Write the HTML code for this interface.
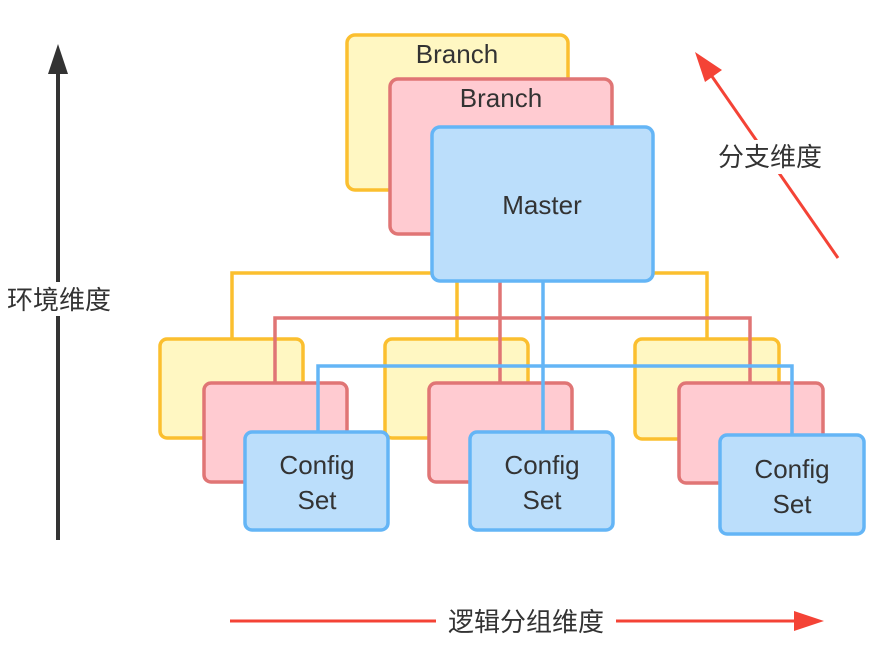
<!DOCTYPE html>
<html><head><meta charset="utf-8"><style>
html,body{margin:0;padding:0;background:#fff;width:881px;height:646px;overflow:hidden}
text{font-family:"Liberation Sans","Noto Sans CJK SC",sans-serif;fill:#333}
</style></head><body>
<svg width="881" height="646" viewBox="0 0 881 646" xmlns="http://www.w3.org/2000/svg">
<g stroke-width="3.5">
<!-- bottom yellow -->
<rect x="160" y="339" width="143" height="99" rx="7" fill="#fff7c2" stroke="#fbbf2f"/>
<rect x="385" y="339" width="143" height="99" rx="7" fill="#fff7c2" stroke="#fbbf2f"/>
<rect x="635" y="339" width="144" height="100" rx="7" fill="#fff7c2" stroke="#fbbf2f"/>
<!-- bottom pink -->
<rect x="204" y="383" width="143" height="99" rx="7" fill="#ffcbd1" stroke="#e07575"/>
<rect x="429" y="383" width="143" height="99" rx="7" fill="#ffcbd1" stroke="#e07575"/>
<rect x="679" y="383" width="144" height="100" rx="7" fill="#ffcbd1" stroke="#e07575"/>
<!-- lines -->
<g fill="none">
<path d="M232 339 V273 H707 V339 M457 273 V339" stroke="#fbbf2f"/>
<path d="M275 383 V318 H750 V383 M500 281 V383" stroke="#e07575"/>
<path d="M318 432 V366 H792 V435 M543 281 V432" stroke="#64b5f6"/>
</g>
<!-- top -->
<rect x="347" y="35" width="221" height="155" rx="8" fill="#fff7c2" stroke="#fbbf2f"/>
<rect x="390" y="79" width="222" height="155" rx="8" fill="#ffcbd1" stroke="#e07575"/>
<rect x="432" y="127" width="221" height="154" rx="8" fill="#bbdefb" stroke="#64b5f6"/>
<!-- bottom blue -->
<rect x="245" y="432" width="143" height="98" rx="7" fill="#bbdefb" stroke="#64b5f6"/>
<rect x="470" y="432" width="143" height="98" rx="7" fill="#bbdefb" stroke="#64b5f6"/>
<rect x="720" y="435" width="144" height="99" rx="7" fill="#bbdefb" stroke="#64b5f6"/>
</g>
<g font-size="26" text-anchor="middle">
<text x="457" y="63">Branch</text>
<text x="501" y="107">Branch</text>
<text x="542" y="214">Master</text>
<text x="317" y="474">Config</text><text x="317" y="509">Set</text>
<text x="542" y="474">Config</text><text x="542" y="509">Set</text>
<text x="792" y="478">Config</text><text x="792" y="513">Set</text>
</g>
<!-- arrows -->
<line x1="58" y1="540" x2="58" y2="70" stroke="#333" stroke-width="4"/>
<polygon points="58,44 48,74 68,74" fill="#333"/>
<rect x="0" y="282" width="118" height="34" fill="#fff"/>
<text x="59" y="309" font-size="26" text-anchor="middle">环境维度</text>
<line x1="230" y1="621" x2="795" y2="621" stroke="#f44336" stroke-width="3"/>
<polygon points="824,621 794,611 794,631" fill="#f44336"/>
<rect x="436" y="604" width="180" height="34" fill="#fff"/>
<text x="526" y="631" font-size="26" text-anchor="middle">逻辑分组维度</text>
<line x1="838" y1="258" x2="711" y2="75" stroke="#f44336" stroke-width="3"/>
<polygon points="695,52 722,70 705,82" fill="#f44336"/>
<rect x="708" y="140" width="124" height="34" fill="#fff"/>
<text x="770" y="166" font-size="26" text-anchor="middle">分支维度</text>
</svg>
</body></html>
